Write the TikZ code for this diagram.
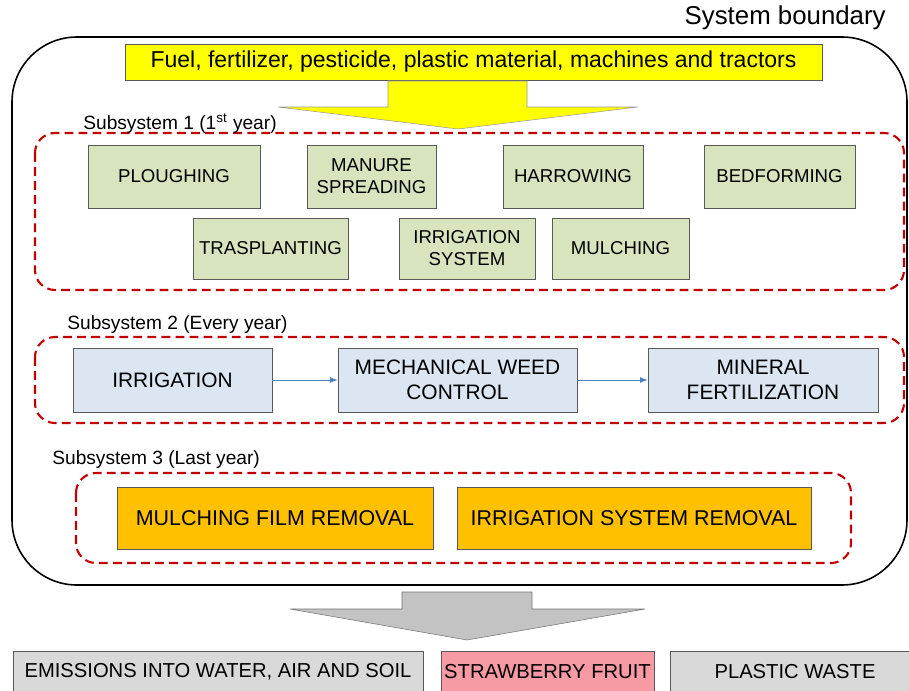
\documentclass[tikz,border=0pt]{standalone}
\usepackage{fontspec}
\setmainfont{Liberation Sans}
\usepackage{xcolor}
\usetikzlibrary{positioning}

\definecolor{boxgreen}{HTML}{D7E4BD}
\definecolor{boxblue}{HTML}{DCE6F2}
\definecolor{boxorange}{HTML}{FFC000}
\definecolor{boxgray}{HTML}{D9D9D9}
\definecolor{boxpink}{HTML}{F79AA3}
\definecolor{dashred}{HTML}{C00000}
\definecolor{flowblue}{HTML}{4F81BD}
\definecolor{inyellow}{HTML}{FFFF00}

\begin{document}
\begin{tikzpicture}[x=0.02cm, y=-0.02cm, >=latex,
    box/.style={draw=black!65, line width=0.4pt, align=center, inner sep=0pt},
    greenbox/.style={box, fill=boxgreen, minimum height=1.26cm, font=\fontsize{10.6}{12.5}\selectfont},
    bluebox/.style={box, fill=boxblue, minimum height=1.28cm, font=\fontsize{11.9}{14}\selectfont},
    orangebox/.style={box, fill=boxorange, minimum height=1.24cm, font=\fontsize{12.2}{14}\selectfont},
    outbox/.style={box, minimum height=0.84cm, font=\fontsize{11.5}{14}\selectfont},
    subsys/.style={draw=dashred, line width=1.2pt, dash pattern=on 5pt off 3pt, rounded corners=0.4cm},
    sublabel/.style={anchor=west, inner sep=0pt, font=\fontsize{10.9}{12}\selectfont},
    flow/.style={->, flowblue, line width=0.5pt}]
    \clip (0,0) rectangle (909,690);

    % 1. System boundary
    \draw[line width=0.9pt, rounded corners=1.3cm] (12,37) rectangle (907,585);
    \node[anchor=east, inner sep=0pt, font=\fontsize{14.7}{16}\selectfont] (sb) at (886,18) {System boundary};

    % 2. Inputs
    \node[box, fill=inyellow, minimum width=13.94cm, minimum height=0.72cm,
          font=\fontsize{13.1}{14}\selectfont] (fuel) at (473.5,62)
        {Fuel, fertilizer, pesticide, plastic material, machines and tractors};
    \fill[inyellow, draw=black!40, line width=0.3pt] (388,81) -- (388,107) -- (278,107) -- (458,129)
        -- (638,107) -- (527,107) -- (527,81) -- cycle;

    % 3. Subsystem 1
    \draw[subsys] (35,133) rectangle (904,290);
    \node[sublabel] (s1) at (83,124) {Subsystem 1 (1\textsuperscript{st} year)};
    \node[greenbox, minimum width=3.44cm] (plough) at (174,176.5) {PLOUGHING};
    \node[greenbox, minimum width=2.58cm] (manure) at (371.5,176.5) {MANURE\\SPREADING};
    \node[greenbox, minimum width=2.80cm] (harrow) at (573,176.5) {HARROWING};
    \node[greenbox, minimum width=3.02cm] (bed) at (779.5,176.5) {BEDFORMING};
    \node[greenbox, minimum width=3.10cm, minimum height=1.22cm] (trasp) at (270.5,248.5) {TRASPLANTING};
    \node[greenbox, minimum width=2.72cm, minimum height=1.22cm] (irrsys) at (467,248.5) {IRRIGATION\\SYSTEM};
    \node[greenbox, minimum width=2.74cm, minimum height=1.22cm] (mulch) at (620.5,248.5) {MULCHING};

    % 4. Subsystem 2
    \draw[subsys] (35,337) rectangle (904,423);
    \node[sublabel] (s2) at (67,325) {Subsystem 2 (Every year)};
    \node[bluebox, minimum width=3.98cm] (irr) at (172.5,380) {IRRIGATION};
    \node[bluebox, minimum width=4.78cm] (weed) at (457.5,380) {MECHANICAL WEED\\CONTROL};
    \node[bluebox, minimum width=4.60cm] (mineral) at (763,380) {MINERAL\\FERTILIZATION};
    \draw[flow] (irr) -- (weed);
    \draw[flow] (weed) -- (mineral);

    % 5. Subsystem 3
    \draw[subsys] (76,473) rectangle (851,563);
    \node[sublabel] (s3) at (52,460) {Subsystem 3 (Last year)};
    \node[orangebox, minimum width=6.32cm] (film) at (275,518) {MULCHING FILM REMOVAL};
    \node[orangebox, minimum width=7.08cm] (irrrem) at (634,518) {IRRIGATION SYSTEM REMOVAL};

    % 6. Outputs
    \fill[boxgray!90!black, draw=black!55, line width=0.3pt] (402,592) -- (402,609) -- (290,609) -- (467,640)
        -- (645,609) -- (532,609) -- (532,592) -- cycle;
    \node[outbox, fill=boxgray, minimum width=8.2cm] (emis) at (218,672) {EMISSIONS INTO WATER, AIR AND SOIL};
    \node[outbox, fill=boxpink, minimum width=4.26cm] (fruit) at (547.5,672) {STRAWBERRY FRUIT};
    \node[outbox, fill=boxgray, minimum width=5.0cm] (waste) at (795,672) {PLASTIC WASTE};
\end{tikzpicture}
\end{document}
